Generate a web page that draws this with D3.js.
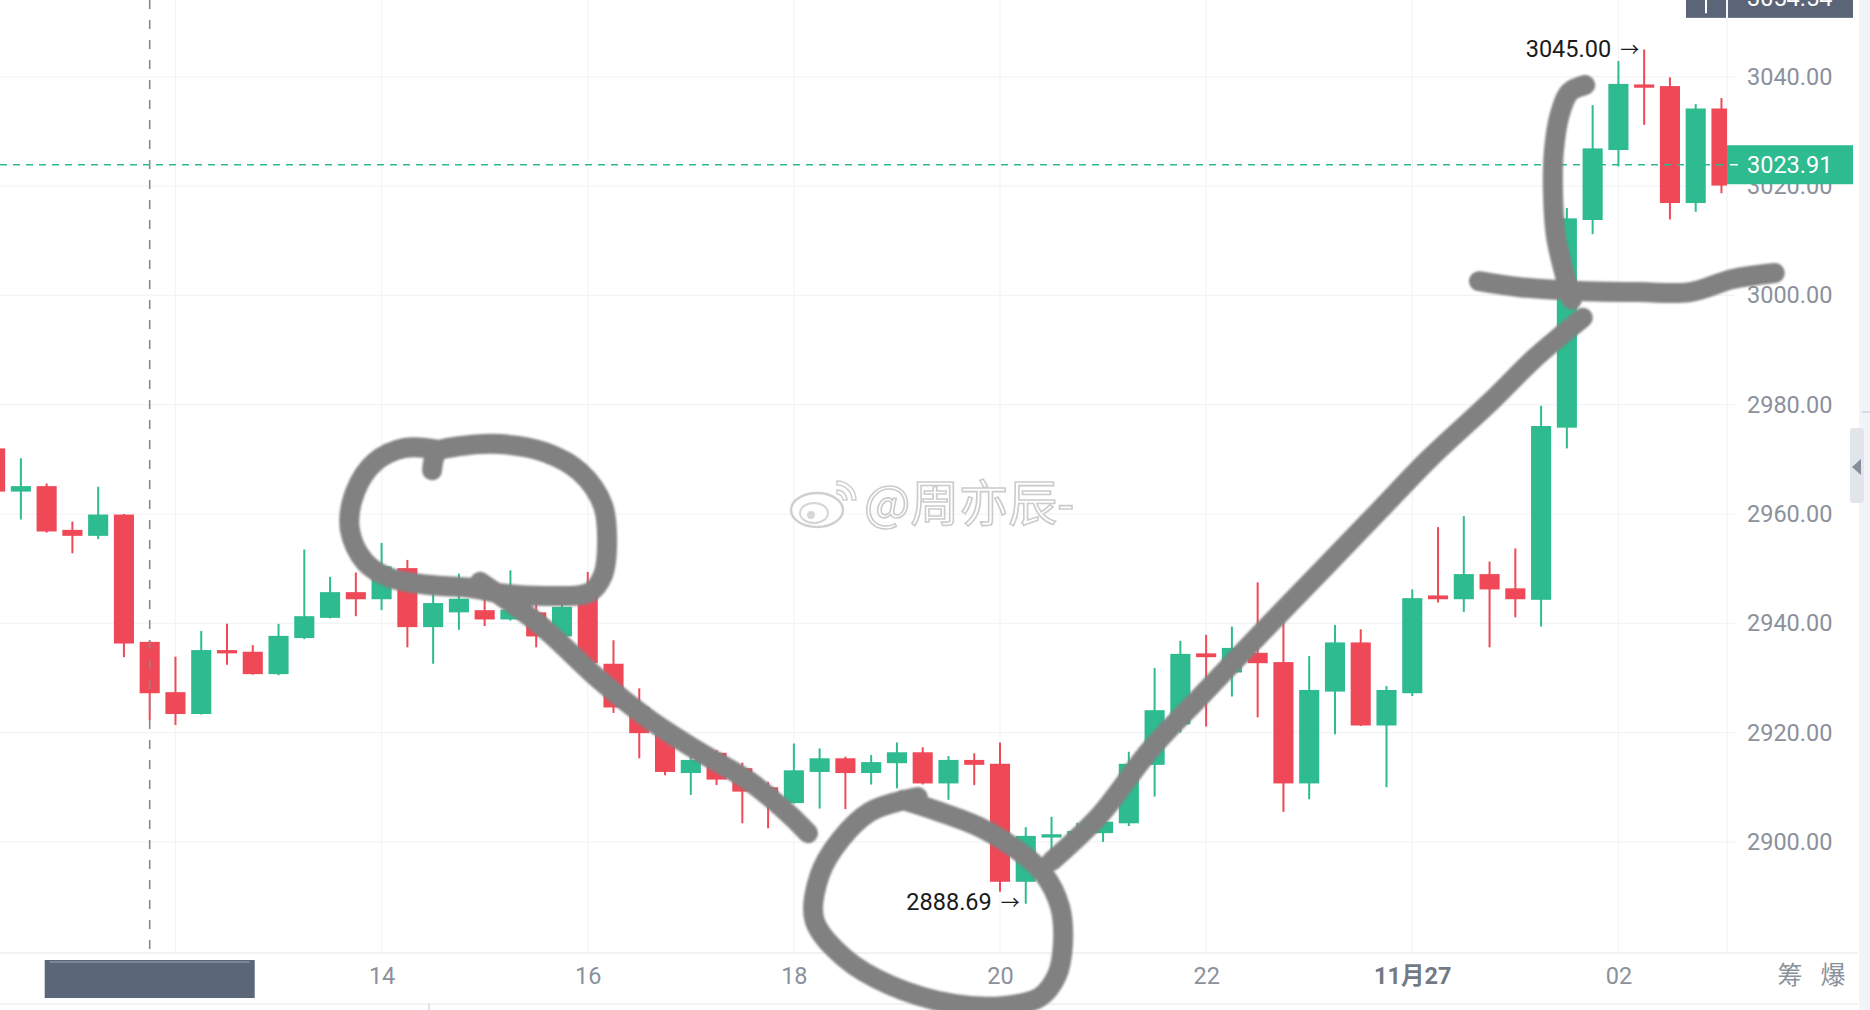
<!doctype html>
<html>
<head>
<meta charset="utf-8">
<title>K线 15分钟</title>
<script src="https://d3js.org/d3.v7.min.js"></script>
<style>
  body { margin:0; background:#fff; overflow:hidden; }
  text { font-family: Roboto, "Noto Sans", "Noto Sans CJK SC", sans-serif; }
</style>
</head>
<body>
<svg id="chart" width="1870" height="1010"></svg>
<script>
// 15 minute candles, index 0 = 14:00, first visible bar is index -15
let firstIndex = -15;
let opens  = [2972.0,2964.1,2965.1,2957.1,2956.0,2959.9,2936.6,2927.4,2923.4,2935.1,2934.8,2930.7,2937.3,2941.0,2945.7,
              2944.4,2950.1,2939.3,2942.0,2942.4,2940.7,2942.0,2937.6,2946.0,2932.6,2924.7,2919.8,2912.6,2916.3,2913.5,2910.0,
              2907.1,2912.8,2915.3,2912.6,2914.4,2916.4,2910.7,2915.0,2914.3,2892.7,2900.8,2901.0,2901.6,2903.4,2914.1,
              2921.5,2934.5,2931.0,2934.6,2932.9,2910.7,2927.5,2936.5,2921.3,2927.2,2945.1,2944.4,2949.0,2946.4,2944.3,
              2975.8,3013.8,3026.6,3038.6,3038.3,3016.9,3034.2];
let highs  = [2973.0,2970.2,2965.6,2958.6,2965.0,2960.0,2936.8,2933.9,2938.6,2939.9,2936.0,2939.9,2953.5,2948.5,2949.3,
              2954.7,2951.6,2946.0,2949.1,2946.0,2949.7,2946.0,2945.0,2949.4,2936.9,2928.1,2920.5,2917.5,2916.8,2914.5,2911.0,
              2918.0,2917.1,2915.6,2915.9,2918.2,2917.3,2915.7,2916.2,2918.2,2902.7,2904.6,2903.5,2905.0,2916.5,2931.8,
              2936.8,2937.9,2939.4,2947.5,2942.0,2934.0,2939.7,2938.9,2928.5,2946.2,2957.6,2959.6,2951.3,2953.7,2979.8,
              3016.0,3034.8,3042.9,3045.00,3039.9,3035.0,3036.1];
let lows   = [2963.5,2959.0,2956.6,2952.8,2955.4,2933.8,2922.3,2921.4,2923.3,2932.4,2930.6,2930.5,2937.1,2940.9,2941.3,
              2942.4,2935.6,2932.6,2938.8,2939.5,2940.5,2935.6,2937.4,2932.5,2923.6,2915.3,2912.2,2908.6,2910.4,2903.4,2902.5,
              2907.0,2906.1,2906.0,2910.5,2909.8,2910.5,2907.7,2910.4,2890.9,2888.69,2898.3,2899.5,2900.0,2902.9,2908.3,
              2920.0,2921.1,2926.6,2922.8,2905.5,2907.8,2919.7,2921.2,2910.0,2926.7,2943.8,2942.1,2935.6,2941.1,2939.4,
              2972.0,3011.2,3023.6,3031.2,3013.9,3015.3,3018.7];
let closes = [2964.1,2965.1,2956.8,2956.0,2959.9,2936.3,2927.2,2923.4,2935.1,2934.5,2930.7,2937.7,2941.3,2945.7,2944.4,
              2950.4,2939.3,2943.7,2944.5,2940.7,2942.5,2937.6,2943.0,2932.7,2924.6,2919.9,2912.8,2915.0,2911.4,2909.2,2908.0,
              2913.1,2915.3,2912.6,2914.6,2916.4,2910.7,2915.0,2914.1,2892.7,2901.1,2901.4,2902.0,2903.7,2914.3,2924.1,
              2934.4,2933.8,2935.5,2932.7,2910.7,2927.8,2936.5,2921.3,2927.8,2944.6,2944.4,2949.0,2946.2,2944.4,2976.1,
              3014.1,3026.9,3038.7,3038.0,3016.9,3034.2,3020.1];

let tickIndex  = [0, 8, 16, 24, 32, 40, 48];
let tickLabels = ["14", "16", "18", "20", "22", "11月27", "02"];
let priceTicks = [2900, 2920, 2940, 2960, 2980, 3000, 3020, 3040];

let lastPrice  = 3023.91;
let crossPrice = 3054.54;
let crossIndex = -9;
let maxMark = {i: 49, v: 3045.00};
let minMark = {i: 25, v: 2888.69};

// hand drawn marks over the chart, in [bar index, price]
let loopStroke   = [[1.96,2968.0],[2.15,2971.3],[3.04,2972.4],[4.59,2972.8],[6.34,2971.3],[7.70,2967.7],[8.59,2961.6],
                    [8.75,2954.3],[8.59,2948.8],[8.09,2945.7],[6.54,2945.0],[4.59,2945.5],[3.43,2946.5],[1.88,2947.0],
                    [0.33,2948.3],[-0.64,2951.2],[-1.23,2957.1],[-1.03,2964.0],[-0.26,2969.5],[0.91,2972.1],[2.27,2971.7]];
let downStroke   = [[3.82,2947.6],[6.15,2939.7],[8.47,2929.6],[10.42,2922.3],[12.36,2916.4],[14.30,2911.0],[15.85,2904.9],[16.55,2901.6]];
let circleStroke = [[20.23,2907.7],[21.48,2905.8],[23.22,2902.7],[24.50,2899.1],[25.67,2894.3],[26.33,2888.1],[26.44,2881.1],
                    [26.21,2875.6],[25.55,2871.6],[24.19,2870.0],[22.25,2870.3],[19.73,2873.8],[17.98,2878.7],[16.80,2885.7],
                    [17.00,2893.9],[17.79,2900.3],[18.95,2905.5],[20.31,2907.7],[20.81,2908.2]];
let riseStroke   = [[26.01,2896.5],[27.88,2904.9],[29.82,2916.8],[31.76,2926.5],[34.09,2938.0],[36.41,2949.3],[38.74,2960.7],
                    [40.68,2970.2],[43.01,2980.4],[44.68,2988.2],[45.61,2992.0],[46.62,2995.9]];
let vertStroke   = [[46.71,3038.5],[46.11,3037.2],[45.72,3033.0],[45.50,3026.6],[45.46,3019.3],[45.57,3011.0],[45.92,3003.7],[46.19,2999.2]];
let lineStroke   = [[42.59,3002.6],[44.18,3001.5],[46.50,3000.8],[48.83,3000.6],[50.77,3000.6],[52.44,3003.0],[54.07,3004.1]];

let svg = d3.select("#chart");
let plotW = 1727, plotH = 953;

let x = d3.scaleLinear().domain([0, 48]).range([381.6, 1618.4]);
let y = d3.scaleLinear().domain([2900, 3040]).range([841.9, 76.8]);
let step  = x(1) - x(0);
let bodyW = step * 0.78;

let up = "#2dbb8f", down = "#ef4958", grid = "#f3f4f6", axisText = "#8b919b";

let candles = opens.map((o, i) => ({i: firstIndex + i, o: o, h: highs[i], l: lows[i], c: closes[i]}));

svg.append("rect").attr("width", 1870).attr("height", 1010).attr("fill", "#fff");

// grid
svg.append("g").selectAll("line").data(d3.range(-8, 49, 8)).enter().append("line")
   .attr("x1", d => x(d)).attr("x2", d => x(d)).attr("y1", 0).attr("y2", plotH)
   .attr("stroke", grid).attr("stroke-width", 1.2);
svg.append("g").selectAll("line").data(priceTicks).enter().append("line")
   .attr("x1", 0).attr("x2", 1735).attr("y1", d => y(d)).attr("y2", d => y(d))
   .attr("stroke", grid).attr("stroke-width", 1.2);
svg.append("line").attr("x1", plotW).attr("x2", plotW).attr("y1", 0).attr("y2", plotH).attr("stroke", "#eef0f3");
svg.append("line").attr("x1", 0).attr("x2", 1858).attr("y1", plotH).attr("y2", plotH).attr("stroke", "#eceef2").attr("stroke-width", 1.5);
svg.append("line").attr("x1", 0).attr("x2", 1858).attr("y1", 1004).attr("y2", 1004).attr("stroke", "#eceef2").attr("stroke-width", 1.5);
svg.append("line").attr("x1", 429).attr("x2", 429).attr("y1", 1004).attr("y2", 1010).attr("stroke", "#d5d8de").attr("stroke-width", 1.5);

// candles
svg.append("clipPath").attr("id", "plotclip").append("rect").attr("width", plotW).attr("height", plotH);
let cg = svg.append("g").attr("clip-path", "url(#plotclip)");

cg.selectAll(".wick").data(candles).enter().append("line")
   .attr("class", "wick")
   .attr("x1", d => x(d.i)).attr("x2", d => x(d.i))
   .attr("y1", d => y(d.h)).attr("y2", d => y(d.l))
   .attr("stroke", d => d.c >= d.o ? up : down).attr("stroke-width", 2);

cg.selectAll(".body").data(candles).enter().append("rect")
   .attr("class", "body")
   .attr("x", d => x(d.i) - bodyW / 2).attr("width", bodyW)
   .attr("y", d => y(Math.max(d.o, d.c)))
   .attr("height", d => Math.max(2, Math.abs(y(d.o) - y(d.c))))
   .attr("fill", d => d.c >= d.o ? up : down);

// crosshair and last price lines
svg.append("line").attr("x1", x(crossIndex)).attr("x2", x(crossIndex)).attr("y1", 0).attr("y2", plotH)
   .attr("stroke", "#8a8a8a").attr("stroke-width", 1.6).attr("stroke-dasharray", "9,11");
svg.append("line").attr("x1", 0).attr("x2", plotW).attr("y1", y(lastPrice)).attr("y2", y(lastPrice))
   .attr("stroke", up).attr("stroke-width", 1.5).attr("stroke-dasharray", "7,6");

// price axis
let yAxis = svg.append("g").attr("transform", "translate(" + plotW + ",0)")
   .call(d3.axisRight(y).tickValues(priceTicks).tickFormat(d3.format(".2f")).tickSize(0).tickPadding(20));
yAxis.select(".domain").remove();
yAxis.selectAll("text").attr("fill", axisText).style("font-size", "23.5px").style("font-family", "Roboto");

// time axis
let xAxis = svg.append("g").attr("transform", "translate(0," + plotH + ")")
   .call(d3.axisBottom(x).tickValues(tickIndex).tickFormat((d, i) => tickLabels[i]).tickSize(0).tickPadding(14.7));
xAxis.select(".domain").remove();
xAxis.selectAll("text").attr("fill", axisText).style("font-size", "23.5px").style("font-family", "Roboto, 'Noto Sans CJK SC'")
   .filter((d, i) => tickLabels[i].indexOf("月") >= 0).attr("fill", "#737a85").style("font-weight", "bold");

svg.append("text").attr("x", 1790).attr("y", 984).attr("text-anchor", "middle").attr("fill", axisText)
   .style("font-size", "25px").style("font-family", "'Noto Sans CJK SC'").text("筹");
svg.append("text").attr("x", 1833).attr("y", 984).attr("text-anchor", "middle").attr("fill", axisText)
   .style("font-size", "25px").style("font-family", "'Noto Sans CJK SC'").text("爆");

// last price label
let ly = y(lastPrice);
svg.append("rect").attr("x", plotW).attr("y", ly - 19.5).attr("width", 126).attr("height", 39).attr("fill", up);
svg.append("line").attr("x1", plotW + 3).attr("x2", plotW + 11).attr("y1", ly).attr("y2", ly).attr("stroke", "#fff").attr("stroke-width", 1.5);
svg.append("text").attr("x", plotW + 20).attr("y", ly + 8.3).attr("fill", "#fff")
   .style("font-size", "23.5px").text(d3.format(".2f")(lastPrice));

// crosshair labels (cut by the top edge)
let cy = y(crossPrice);
svg.append("rect").attr("x", 1686).attr("y", cy - 20.5).attr("width", 40).attr("height", 41).attr("fill", "#5b6577");
svg.append("line").attr("x1", 1706).attr("x2", 1706).attr("y1", cy).attr("y2", cy + 16).attr("stroke", "#fff").attr("stroke-width", 2);
svg.append("rect").attr("x", plotW + 1).attr("y", cy - 20.5).attr("width", 125).attr("height", 41).attr("fill", "#5b6577");
svg.append("text").attr("x", plotW + 20).attr("y", cy + 8.3).attr("fill", "#fff")
   .style("font-size", "23.5px").text(d3.format(".2f")(crossPrice));

let cx = x(crossIndex);
svg.append("rect").attr("x", cx - 105).attr("y", 960).attr("width", 210).attr("height", 38).attr("fill", "#5b6679");
svg.append("rect").attr("x", cx - 100).attr("y", 961).attr("width", 200).attr("height", 2).attr("fill", "#8893a5").attr("opacity", 0.7);

// high / low markers
svg.append("text").attr("x", x(maxMark.i) - 5).attr("y", y(maxMark.v) + 8).attr("text-anchor", "end").attr("fill", "#1a1a1a")
   .style("font-size", "23.5px")
   .call(t => { t.append("tspan").text(d3.format(".2f")(maxMark.v)); t.append("tspan").attr("dx", 9).style("font-size", "19px").text("→"); });
svg.append("text").attr("x", x(minMark.i) - 6).attr("y", y(minMark.v) + 6).attr("text-anchor", "end").attr("fill", "#1a1a1a")
   .style("font-size", "23.5px")
   .call(t => { t.append("tspan").text(d3.format(".2f")(minMark.v)); t.append("tspan").attr("dx", 9).style("font-size", "19px").text("→"); });

// watermark
let wm = svg.append("g").attr("opacity", 0.95);
wm.append("ellipse").attr("cx", 817).attr("cy", 510).attr("rx", 26).attr("ry", 17).attr("fill", "#fff").attr("stroke", "#cdcdcd").attr("stroke-width", 2.5);
wm.append("ellipse").attr("cx", 814).attr("cy", 513).attr("rx", 14).attr("ry", 10).attr("fill", "none").attr("stroke", "#d3d3d3").attr("stroke-width", 2);
wm.append("circle").attr("cx", 811).attr("cy", 515).attr("r", 4).attr("fill", "#d6d6d6");
wm.append("path").attr("d", d3.arc()({innerRadius: 6, outerRadius: 10, startAngle: 0, endAngle: Math.PI / 2}))
   .attr("transform", "translate(837,500)").attr("fill", "#fff").attr("stroke", "#cdcdcd").attr("stroke-width", 1.5);
wm.append("path").attr("d", d3.arc()({innerRadius: 15, outerRadius: 19, startAngle: 0, endAngle: Math.PI / 2}))
   .attr("transform", "translate(837,500)").attr("fill", "#fff").attr("stroke", "#cdcdcd").attr("stroke-width", 1.5);
wm.append("text").attr("x", 864).attr("y", 521).attr("fill", "#fff").attr("stroke", "#c9c9c9").attr("stroke-width", 1.6)
   .style("font-size", "49px").style("font-family", "'Noto Sans CJK SC'").text("@周亦辰-");

// hand drawn strokes
let blur = svg.append("defs").append("filter").attr("id", "soft");
blur.append("feGaussianBlur").attr("stdDeviation", 0.9);
let pen = d3.line().x(d => x(d[0])).y(d => y(d[1])).curve(d3.curveCatmullRom.alpha(0.5));
svg.append("g").attr("filter", "url(#soft)").selectAll("path")
   .data([loopStroke, downStroke, circleStroke, riseStroke, vertStroke, lineStroke]).enter().append("path")
   .attr("d", pen).attr("fill", "none").attr("stroke", "#818181").attr("stroke-width", 20)
   .attr("stroke-linecap", "round").attr("stroke-linejoin", "round");

// right side strip and tab
svg.append("rect").attr("x", 1859).attr("y", 0).attr("width", 11).attr("height", 1010).attr("fill", "#f3f4f7");
svg.append("line").attr("x1", 1862).attr("x2", 1870).attr("y1", 412).attr("y2", 412).attr("stroke", "#d2d5db").attr("stroke-width", 1.5);
svg.append("rect").attr("x", 1850).attr("y", 428).attr("width", 14).attr("height", 75).attr("rx", 3).attr("fill", "#e2e5eb");
svg.append("path").attr("d", d3.line()([[1852, 467], [1861, 459], [1861, 475]])).attr("fill", "#878e9a");
</script>
</body>
</html>
